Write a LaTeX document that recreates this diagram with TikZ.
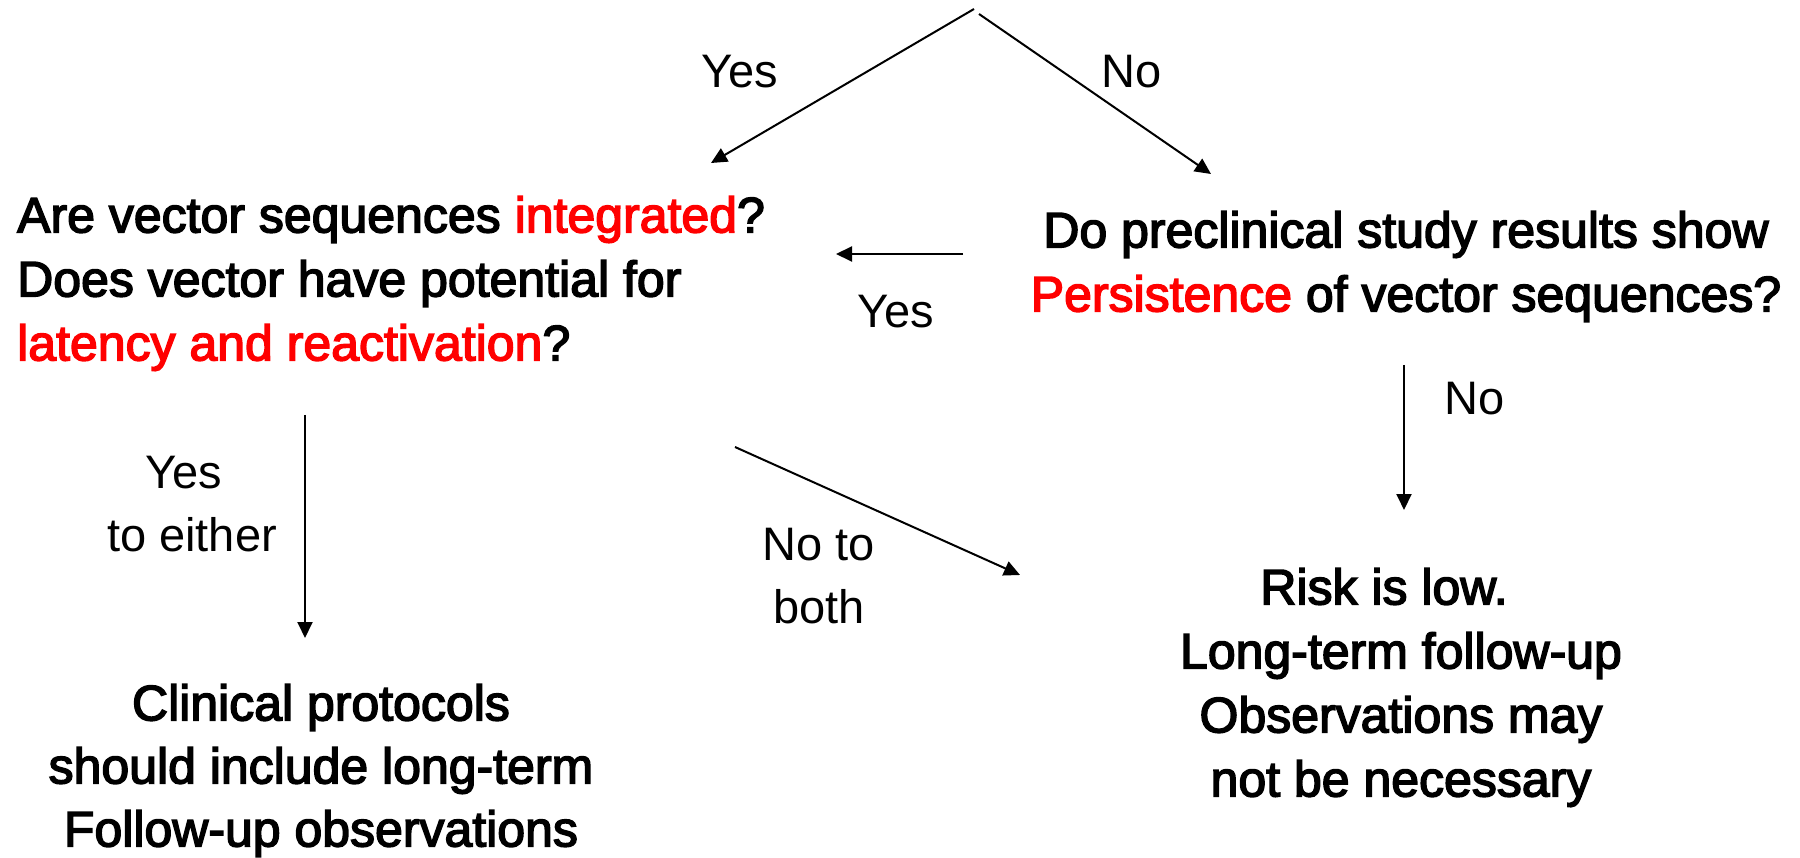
\documentclass[tikz,border=0pt]{standalone}
\usepackage{fontspec}
\setmainfont{Liberation Sans}
\newfontfamily\gothicfont[FakeBold=3]{Liberation Sans}
\usetikzlibrary{arrows.meta}
\definecolor{keyred}{RGB}{255,0,0}

\begin{document}
\begin{tikzpicture}[x=1pt, y=-1pt,
        flow/.style={line width=2pt, -{Triangle[length=16pt, width=15pt]}},
        question/.style={inner sep=0pt, font=\gothicfont\fontsize{50}{64}\selectfont},
        answer/.style={inner sep=0pt, font=\fontsize{47}{63}\selectfont}]
    \useasboundingbox (0,0) rectangle (1800,858);
    % questions and outcomes
    \node[question, anchor=north west, align=left] (vecq) at (17,196)
        {Are vector sequences \textcolor{keyred}{integrated}?\\
         Does vector have potential for\\
         \textcolor{keyred}{latency and reactivation}?};
    \node[question, anchor=north, align=center] (persq) at (1406,211)
        {Do preclinical study results show\\
         \textcolor{keyred}{Persistence} of vector sequences?};
    \node[question, anchor=north, align=center, font=\gothicfont\fontsize{50}{63}\selectfont] (clin) at (321,684)
        {Clinical protocols\\should include long-term\\Follow-up observations};
    \node[question, anchor=north, align=center] (risk) at (1401,568)
        {Risk is low.\hspace*{34pt}\\Long-term follow-up\\Observations may\\not be necessary};
    % arrow ends
    \coordinate (apexL) at (974,9);
    \coordinate (apexR) at (979,14);
    \coordinate (vecIn) at (711,163);
    \coordinate (persIn) at (1211,174);
    \coordinate (persOut) at (963,254);
    \coordinate (vecIn2) at (836,254);
    \coordinate (vecOut) at (305,415);
    \coordinate (clinIn) at (305,638);
    \coordinate (vecOut2) at (735,447);
    \coordinate (riskIn) at (1020,575);
    \coordinate (persOut2) at (1404,365);
    \coordinate (riskIn2) at (1404,510);
    \draw[flow] (apexL) -- (vecIn);
    \draw[flow] (apexR) -- (persIn);
    \draw[flow] (persOut) -- (vecIn2);
    \draw[flow] (vecOut) -- (clinIn);
    \draw[flow] (vecOut2) -- (riskIn);
    \draw[flow] (persOut2) -- (riskIn2);
    % answers
    \node[answer, anchor=base] (yesA) at (740,88) {Yes};
    \node[answer, anchor=base] (noA) at (1132,88) {No};
    \node[answer, anchor=base] (yesB) at (896,328) {Yes};
    \node[answer, anchor=base] (noB) at (1475,415) {No};
    \node[answer, anchor=north, align=center] (yesC) at (192,456) {Yes\hspace*{16pt}\\to either};
    \node[answer, anchor=north, align=center] (noC) at (819,528) {No to\\both};
\end{tikzpicture}
\end{document}
